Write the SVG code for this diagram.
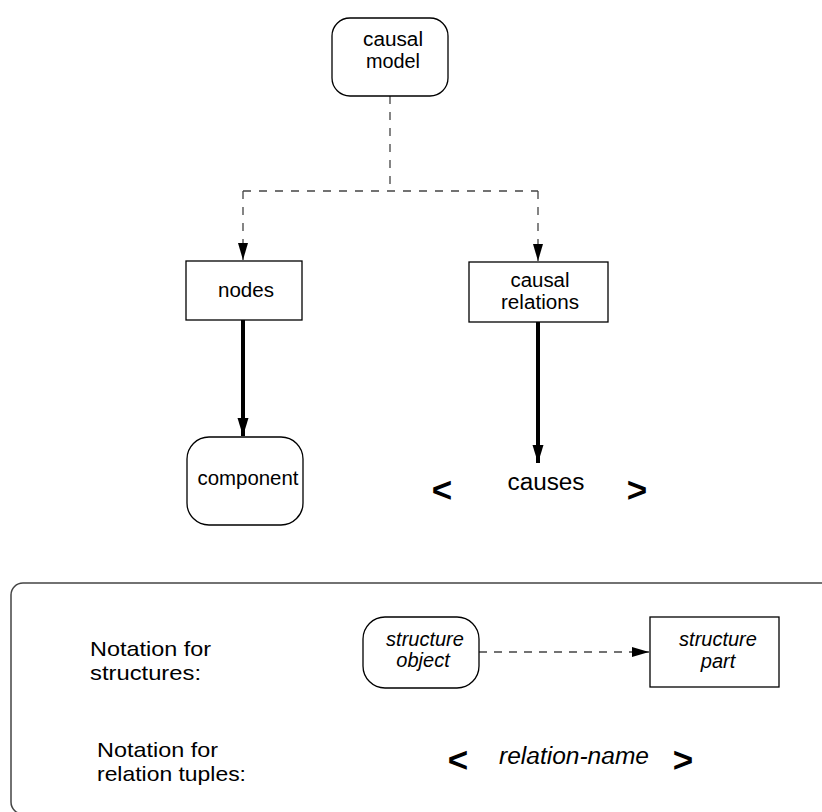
<svg xmlns="http://www.w3.org/2000/svg" width="822" height="812" viewBox="0 0 822 812">
<style>
  .box { fill: #fff; stroke: #000; stroke-width: 1.3; }
  .lbl { font-family: "Liberation Sans", Arial, sans-serif; font-size: 20px; fill: #000; text-anchor: middle; }
  .it { font-family: "Liberation Sans", Arial, sans-serif; font-size: 20px; font-style: italic; fill: #000; text-anchor: middle; }
  .note { font-family: "Liberation Sans", Arial, sans-serif; font-size: 21px; fill: #000; }
  .br { font-family: "Liberation Sans", Arial, sans-serif; font-size: 35px; font-weight: bold; fill: #000; text-anchor: middle; }
  .dash { fill: none; stroke: #444; stroke-width: 1.3; stroke-dasharray: 8 8; }
  .thick { fill: none; stroke: #000; stroke-width: 4; }
</style>
<defs>
  <marker id="dashArrow" markerUnits="userSpaceOnUse" markerWidth="18" markerHeight="12" refX="17" refY="5" orient="auto">
    <path d="M0,0 L17,5 L0,10 Z" fill="#000"/>
  </marker>
  <marker id="thickArrow" markerUnits="userSpaceOnUse" markerWidth="20" markerHeight="12" refX="18" refY="5.5" orient="auto">
    <path d="M0,0 L18,5.5 L0,11 Z" fill="#000"/>
  </marker>
</defs>

<g id="legend-panel">
  <rect x="11" y="583" width="840" height="231" rx="12" ry="12" fill="none" stroke="#444" stroke-width="1.5"/>
</g>

<g id="connectors">
  <path class="dash" d="M390,96 V191"/>
  <path class="dash" d="M243,191 H538"/>
  <path class="dash" d="M243,191 V260" marker-end="url(#dashArrow)"/>
  <path class="dash" d="M538,191 V261" marker-end="url(#dashArrow)"/>
  <path class="thick" d="M243,320 V436" marker-end="url(#thickArrow)"/>
  <path class="thick" d="M538,322 V463" marker-end="url(#thickArrow)"/>
  <path class="dash" d="M479,652 H649" style="stroke-dasharray: 8 7" marker-end="url(#dashArrow)"/>
</g>

<g id="causal-model">
  <rect class="box" x="332" y="18" width="116" height="78" rx="18" ry="18"/>
  <text class="lbl" x="393" y="46" textLength="60" lengthAdjust="spacingAndGlyphs">causal</text>
  <text class="lbl" x="393" y="68" textLength="54" lengthAdjust="spacingAndGlyphs">model</text>
</g>

<g id="nodes">
  <rect class="box" x="186" y="261" width="116" height="59"/>
  <text class="lbl" x="246" y="297" textLength="56" lengthAdjust="spacingAndGlyphs">nodes</text>
</g>

<g id="causal-relations">
  <rect class="box" x="469" y="262" width="139" height="60"/>
  <text class="lbl" x="540" y="287" textLength="59" lengthAdjust="spacingAndGlyphs">causal</text>
  <text class="lbl" x="540" y="309" textLength="78" lengthAdjust="spacingAndGlyphs">relations</text>
</g>

<g id="component">
  <rect class="box" x="187" y="437" width="116" height="88" rx="22" ry="22"/>
  <text class="lbl" x="248" y="485" textLength="101" lengthAdjust="spacingAndGlyphs">component</text>
</g>

<g id="causes">
  <text class="br" x="442" y="502">&lt;</text>
  <text class="lbl" x="546" y="490" style="font-size:23px" textLength="77" lengthAdjust="spacingAndGlyphs">causes</text>
  <text class="br" x="637" y="502">&gt;</text>
</g>

<g id="legend-text">
  <text class="note" x="90" y="656" textLength="121" lengthAdjust="spacingAndGlyphs">Notation for</text>
  <text class="note" x="90" y="680" textLength="111" lengthAdjust="spacingAndGlyphs">structures:</text>
  <text class="note" x="97" y="757" textLength="121" lengthAdjust="spacingAndGlyphs">Notation for</text>
  <text class="note" x="97" y="781" textLength="149" lengthAdjust="spacingAndGlyphs">relation tuples:</text>
</g>

<g id="structure-object">
  <rect class="box" x="363" y="617" width="116" height="71" rx="22" ry="22"/>
  <text class="it" x="425" y="646">structure</text>
  <text class="it" x="423" y="667">object</text>
</g>

<g id="structure-part">
  <rect class="box" x="650" y="617" width="129" height="70"/>
  <text class="it" x="718" y="646">structure</text>
  <text class="it" x="718" y="668">part</text>
</g>

<g id="relation-tuple">
  <text class="br" x="458" y="772">&lt;</text>
  <text class="it" x="574" y="764" style="font-size:23px" textLength="150" lengthAdjust="spacingAndGlyphs">relation-name</text>
  <text class="br" x="683" y="772">&gt;</text>
</g>
</svg>
